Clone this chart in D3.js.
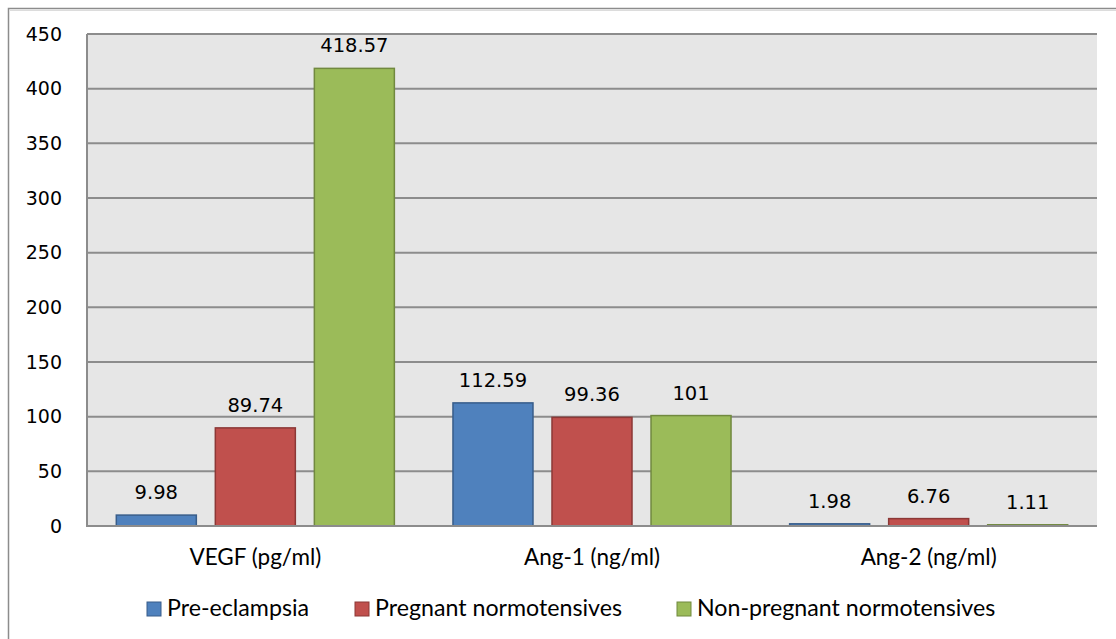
<!DOCTYPE html>
<html>
<head>
<meta charset="utf-8">
<script src="https://cdn.jsdelivr.net/npm/d3@7"></script>
<style>
  html, body { margin: 0; padding: 0; background: #fff; }
  svg { display: block; }
  .num { font-family: "DejaVu Sans", sans-serif; fill: #000; }
  .lbl { font-family: Lato, "Open Sans", sans-serif; fill: #000; }
</style>
</head>
<body>
<div id="chart"></div>
<script>
const categories = ["VEGF (pg/ml)", "Ang-1 (ng/ml)", "Ang-2 (ng/ml)"];
const seriesNames = ["Pre-eclampsia", "Pregnant normotensives", "Non-pregnant normotensives"];
const preEclampsia = [9.98, 112.59, 1.98];
const pregnantNormo = [89.74, 99.36, 6.76];
const nonPregnantNormo = [418.57, 101, 1.11];
const yTicks = [0, 50, 100, 150, 200, 250, 300, 350, 400, 450];

const fills = ["#4f81bd", "#c0504d", "#9bbb59"];
const strokes = ["#385d8a", "#8c3836", "#71893f"];

const seriesValues = [preEclampsia, pregnantNormo, nonPregnantNormo];
const rows = [];
categories.forEach((c, ci) => {
  seriesNames.forEach((s, si) => rows.push({ cat: c, series: s, si, value: seriesValues[si][ci] }));
});

const W = 1116, H = 639;
const plot = { left: 87, top: 34, right: 1097, bottom: 526 };

const svg = d3.select("#chart").append("svg").attr("width", W).attr("height", H);

// outer frame (runs off right and bottom like the screenshot)
svg.append("rect").attr("x", 8.5).attr("y", 8.5).attr("width", W + 20).attr("height", H + 20)
  .attr("fill", "none").attr("stroke", "#8c8c8c").attr("stroke-width", 1.5);
svg.append("line").attr("x1", 10).attr("x2", W).attr("y1", 10.5).attr("y2", 10.5)
  .attr("stroke", "#dcdcdc").attr("stroke-width", 1);

const x0 = d3.scaleBand().domain(categories).range([plot.left, plot.right]);
const x1 = d3.scaleBand().domain(seriesNames).range([0, x0.bandwidth()])
  .paddingInner(0.192).paddingOuter(0.296);
const y = d3.scaleLinear().domain([0, 450]).range([plot.bottom, plot.top]);

svg.append("rect").attr("x", plot.left).attr("y", plot.top)
  .attr("width", plot.right - plot.left).attr("height", plot.bottom - plot.top)
  .attr("fill", "#e6e6e6");

// gridlines
svg.append("g").selectAll("line").data(yTicks.filter(t => t > 0)).join("line")
  .attr("x1", plot.left).attr("x2", plot.right)
  .attr("y1", d => y(d)).attr("y2", d => y(d))
  .attr("stroke", "#8c8c8c").attr("stroke-width", 2);

// y axis labels
const yAxis = svg.append("g").attr("transform", `translate(${plot.left},0)`)
  .call(d3.axisLeft(y).tickValues(yTicks).tickSize(0).tickPadding(25));
yAxis.select(".domain").remove();
yAxis.selectAll("text").attr("class", "num").attr("font-size", 19)
  .attr("font-family", null).attr("fill", "#000");

// bars
svg.append("g").selectAll("rect").data(rows).join("rect")
  .attr("x", d => x0(d.cat) + x1(d.series))
  .attr("y", d => y(d.value))
  .attr("width", x1.bandwidth())
  .attr("height", d => y(0) - y(d.value))
  .attr("fill", d => fills[d.si])
  .attr("stroke", d => strokes[d.si]).attr("stroke-width", 1.5);

// plot frame: left and bottom
svg.append("path")
  .attr("d", `M${plot.left},${plot.top}V${plot.bottom}H${plot.right}`)
  .attr("fill", "none").attr("stroke", "#8c8c8c").attr("stroke-width", 2);

// value labels
svg.append("g").selectAll("text").data(rows).join("text")
  .attr("class", "num").attr("font-size", 19.5)
  .attr("text-anchor", "middle")
  .attr("x", d => x0(d.cat) + x1(d.series) + x1.bandwidth() / 2)
  .attr("y", d => y(d.value) - 16)
  .text(d => d.value);

// category labels
svg.append("g").selectAll("text").data(categories).join("text")
  .attr("class", "lbl").attr("font-size", 22.5)
  .attr("text-anchor", "middle")
  .attr("x", d => x0(d) + x0.bandwidth() / 2)
  .attr("y", 565)
  .text(d => d);

// legend
const legendX = [147, 355, 677];
const leg = svg.append("g").selectAll("g").data(seriesNames).join("g")
  .attr("transform", (d, i) => `translate(${legendX[i]},602)`);
leg.append("rect").attr("width", 14).attr("height", 14)
  .attr("fill", (d, i) => fills[i]).attr("stroke", (d, i) => strokes[i]).attr("stroke-width", 1);
leg.append("text").attr("class", "lbl").attr("font-size", 23.2)
  .attr("x", 20).attr("y", 14).text(d => d);
</script>
</body>
</html>
